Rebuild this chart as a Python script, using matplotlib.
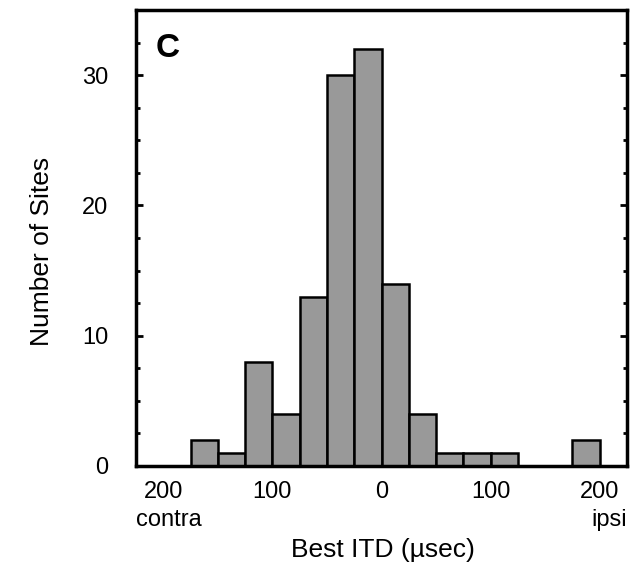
import numpy as np
import matplotlib.pyplot as plt
from matplotlib.ticker import MultipleLocator

# histogram data: bin edges (usec, negative = contra) and counts per bin
bin_left = [-175, -150, -125, -100, -75, -50, -25, 0, 25, 50, 75, 100, 125, 150, 175]
counts = [2, 1, 8, 4, 13, 30, 32, 14, 4, 1, 1, 1, 0, 0, 2]
bin_width = 25

tick_pos = [-200, -100, 0, 100, 200]
tick_labels = ['200', '100', '0', '100', '200']

plt.rcParams['font.family'] = ['Liberation Sans', 'DejaVu Sans']

fig = plt.figure(figsize=(6.38, 5.71), dpi=100)
ax = fig.add_axes([0.2132, 0.1839, 0.7696, 0.7986])

ax.bar(bin_left, counts, width=bin_width, align='edge',
       color='#999999', edgecolor='black', linewidth=1.8)

ax.set_xlim(-225, 225)
ax.set_ylim(0, 35)

# ticks
ax.set_xticks(tick_pos)
ax.set_xticklabels(tick_labels, fontsize=17)
ax.tick_params(axis='x', length=0, pad=11)
ax.yaxis.set_major_locator(MultipleLocator(10))
ax.yaxis.set_minor_locator(MultipleLocator(2.5))
ax.tick_params(axis='y', which='both', direction='in', left=True, right=True,
               width=2, labelsize=17, pad=20)
ax.tick_params(axis='y', which='major', length=5)
ax.tick_params(axis='y', which='minor', length=3)

for s in ax.spines.values():
    s.set_linewidth(2.5)

# extra labels under the end ticks
ax.text(-225, -0.118, 'contra', transform=ax.get_xaxis_transform(),
        ha='left', va='center', fontsize=17)
ax.text(225, -0.118, 'ipsi', transform=ax.get_xaxis_transform(),
        ha='right', va='center', fontsize=17)

ax.text(0.04, 0.915, 'C', transform=ax.transAxes, fontsize=24,
        fontweight='bold', ha='left', va='center')

fig.text(0.6, 0.037, 'Best ITD (\u00b5sec)', ha='center', va='center', fontsize=19)
fig.text(0.066, 0.56, 'Number of Sites', ha='center', va='center',
         rotation=90, fontsize=19)

plt.savefig('out.png', dpi=100)
